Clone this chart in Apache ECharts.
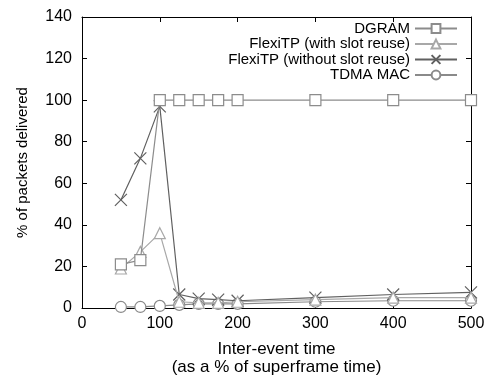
<!DOCTYPE html>
<html>
<head>
<meta charset="utf-8">
<script src="https://cdn.jsdelivr.net/npm/echarts@6/dist/echarts.min.js"></script>
<style>
  html, body { margin: 0; padding: 0; background: #fff; }
  #main { width: 485px; height: 375px; }
</style>
</head>
<body>
<div id="main"></div>
<script>
// inter-event time (% of superframe time)
let xValues = [50, 75, 100, 125, 150, 175, 200, 300, 400, 500];
let dgram = [21, 23, 100, 100, 100, 100, 100, 100, 100, 100];
let flexiReuse = [19, 27, 36, 3, 2.5, 2.5, 3, 4, 5, 5];
let flexiNoReuse = [52, 72, 97, 6.5, 4.5, 4, 3.5, 5, 6.5, 7.5];
let tdma = [0.5, 0.5, 1, 1.5, 2, 2, 2, 3, 3.5, 3.5];

let seriesNames = ['DGRAM', 'FlexiTP (with slot reuse)', 'FlexiTP (without slot reuse)', 'TDMA MAC'];
let seriesColors = ['#8c8c8c', '#a8a8a8', '#606060', '#8a8a8a'];
let seriesSymbols = ['rect', 'triangle', 'path://M0,0L10,10M10,0L0,10', 'circle'];
let seriesData = [dgram, flexiReuse, flexiNoReuse, tdma];

let app = {};

app.pairs = function(values){
    return xValues.map((x, i) => [x, values[i]]);
}

app.series = seriesNames.map(function(name, i){
    return {
        name: name,
        type: 'line',
        data: app.pairs(seriesData[i]),
        symbol: seriesSymbols[i],
        symbolSize: i == 2 ? 12 : 11,
        showAllSymbol: true,
        lineStyle: { color: seriesColors[i], width: 1.2 },
        itemStyle: { color: '#fff', borderColor: seriesColors[i], borderWidth: 1.2 },
        emphasis: { disabled: true },
        animation: false,
        z: 4 - i
    };
});

let textFont = 'Liberation Sans, Arial, sans-serif';

// mirrored axes on top/right, gnuplot style box
app.mirror = {
    axisLine: { show: true, onZero: false, lineStyle: { color: '#000', width: 1 } },
    axisTick: { show: true, inside: true, length: 5, lineStyle: { color: '#000' } },
    axisLabel: { show: false },
    splitLine: { show: false }
};

let myChart = echarts.init(document.getElementById('main'));
myChart.setOption({
    backgroundColor: '#fff',
    animation: false,
    grid: { left: 82, right: 14, top: 17, bottom: 67, outerBoundsMode: 'none', containLabel: false },
    legend: {
        orient: 'vertical',
        right: 22,
        top: 16,
        align: 'right',
        itemWidth: 42,
        itemHeight: 11,
        itemGap: 0.5,
        data: seriesNames,
        textStyle: { fontFamily: textFont, fontSize: 15, lineHeight: 15, color: '#000', padding: [0, 0, 0, 0] }
    },
    xAxis: [Object.assign({
        type: 'value',
        min: 0,
        max: 500,
        interval: 100,
        name: 'Inter-event time\n(as a % of superframe time)',
        nameLocation: 'middle',
        nameGap: 32,
        nameTextStyle: { fontFamily: textFont, fontSize: 17, color: '#000', lineHeight: 18 }
    }, app.mirror, {
        axisLabel: { fontFamily: textFont, fontSize: 16, color: '#000', margin: 8 }
    }), Object.assign({
        type: 'value',
        position: 'top',
        min: 0,
        max: 500,
        interval: 100
    }, app.mirror)],
    yAxis: [Object.assign({
        type: 'value',
        min: 0,
        max: 140,
        interval: 20,
        name: '% of packets delivered',
        nameLocation: 'middle',
        nameGap: 52,
        nameTextStyle: { fontFamily: textFont, fontSize: 15, color: '#000' }
    }, app.mirror, {
        axisLabel: { fontFamily: textFont, fontSize: 16, color: '#000', margin: 10 }
    }), Object.assign({
        type: 'value',
        position: 'right',
        min: 0,
        max: 140,
        interval: 20
    }, app.mirror)],
    series: app.series
});
</script>
</body>
</html>
